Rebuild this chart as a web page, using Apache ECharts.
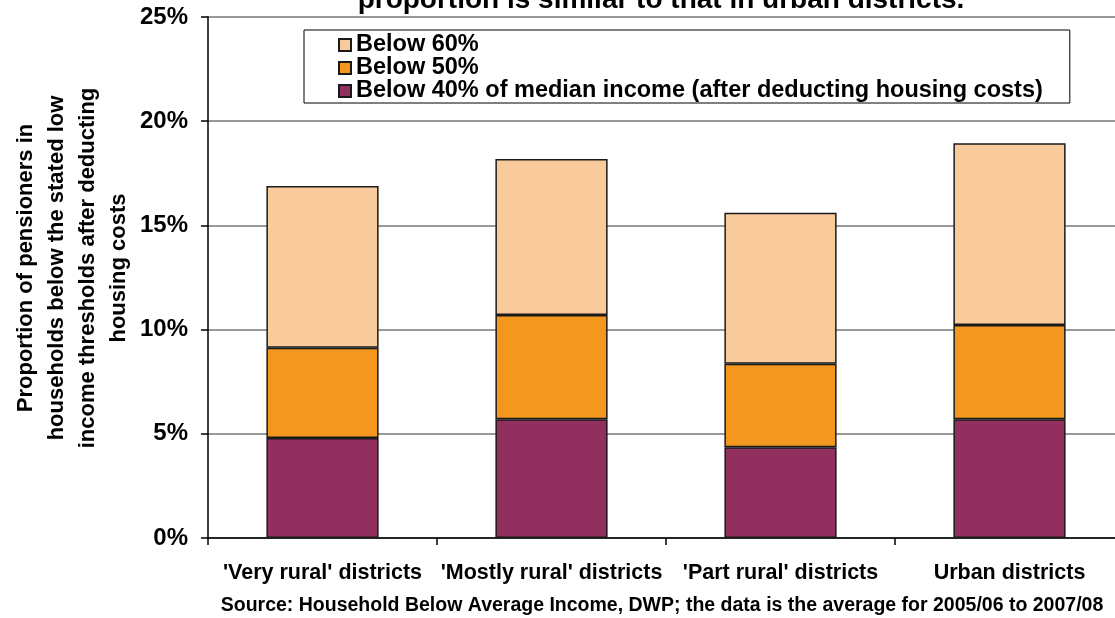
<!DOCTYPE html>
<html>
<head>
<meta charset="utf-8">
<script src="https://cdn.jsdelivr.net/npm/echarts@6/dist/echarts.min.js"></script>
<style>
html,body{margin:0;padding:0;background:#fff;overflow:hidden;width:1115px;height:618px;}
#chart{width:1124px;height:618px;}
</style>
</head>
<body>
<div id="chart"></div>
<script>
// Categories
var categories = ["'Very rural' districts", "'Mostly rural' districts", "'Part rural' districts", "Urban districts"];
// Cumulative proportions (%)
var below40 = [4.8, 5.7, 4.35, 5.7];
var below50 = [9.13, 10.7, 8.36, 10.22];
var below60 = [16.89, 18.19, 15.61, 18.94];
// Y-axis ticks
var yTicks = [0, 5, 10, 15, 20, 25];

var seg40 = below40.slice();
var seg50 = below50.map(function (v, i) { return +(v - below40[i]).toFixed(2); });
var seg60 = below60.map(function (v, i) { return +(v - below50[i]).toFixed(2); });

var FONT = '"Liberation Sans", Arial, sans-serif';
var chart = echarts.init(document.getElementById('chart'), null, {renderer: 'canvas'});

function barSeries(name, data, color) {
  return {
    name: name, type: 'bar', stack: 'total', data: data, barWidth: '49%',
    itemStyle: {color: color, borderColor: '#1a1a1a', borderWidth: 1.5},
    emphasis: {disabled: true}
  };
}

chart.setOption({
  animation: false,
  textStyle: {fontFamily: FONT},
  grid: {left: 208, top: 17, right: 0, bottom: 80, containLabel: false},
  legend: {
    orient: 'vertical', left: 304, top: 30,
    data: ['Below 60%', 'Below 50%', 'Below 40% of median income (after deducting housing costs)'],
    itemWidth: 12, itemHeight: 12, itemGap: -1,
    padding: [3, 27, 0, 34],
    backgroundColor: '#fff', borderColor: '#000', borderWidth: 1, borderRadius: 0,
    textStyle: {fontFamily: FONT, fontWeight: 'bold', fontSize: 23.5, lineHeight: 23, color: '#000', padding: [0, 0, 0, 0]},
    icon: 'rect'
  },
  xAxis: {
    type: 'category', data: categories,
    axisLine: {lineStyle: {color: '#000', width: 1.5}},
    axisTick: {show: true, alignWithLabel: false, length: 7, lineStyle: {color: '#000', width: 1.5}},
    axisLabel: {fontFamily: FONT, fontWeight: 'bold', fontSize: 21.5, color: '#000', margin: 24, interval: 0}
  },
  yAxis: {
    type: 'value', min: yTicks[0], max: yTicks[yTicks.length - 1], interval: 5,
    axisLine: {show: true, lineStyle: {color: '#000', width: 1.5}},
    axisTick: {show: true, length: 7, lineStyle: {color: '#000', width: 1.5}},
    axisLabel: {fontFamily: FONT, fontWeight: 'bold', fontSize: 24, color: '#000', margin: 20, formatter: '{value}%'},
    splitLine: {show: true, lineStyle: {color: '#777', width: 1.5}}
  },
  series: [
    barSeries('Below 40% of median income (after deducting housing costs)', seg40, '#912F5F'),
    barSeries('Below 50%', seg50, '#F4971F'),
    barSeries('Below 60%', seg60, '#F9CB9C')
  ],
  graphic: [
    {type: 'text', x: 661, y: 14, style: {text: 'proportion is similar to that in urban districts.', font: 'bold 28px ' + FONT, fill: '#000', textAlign: 'center', textVerticalAlign: 'bottom'}},
    {type: 'text', x: 72, y: 268, rotation: Math.PI / 2, style: {text: 'Proportion of pensioners in\nhouseholds below the stated low\nincome thresholds after deducting\nhousing costs', font: 'bold 22px ' + FONT, lineHeight: 31, fill: '#000', textAlign: 'center', textVerticalAlign: 'middle'}},
    {type: 'text', x: 662, y: 606, style: {text: 'Source: Household Below Average Income, DWP; the data is the average for 2005/06 to 2007/08', font: 'bold 19.5px ' + FONT, fill: '#000', textAlign: 'center', textVerticalAlign: 'middle'}}
  ]
});
</script>
</body>
</html>
